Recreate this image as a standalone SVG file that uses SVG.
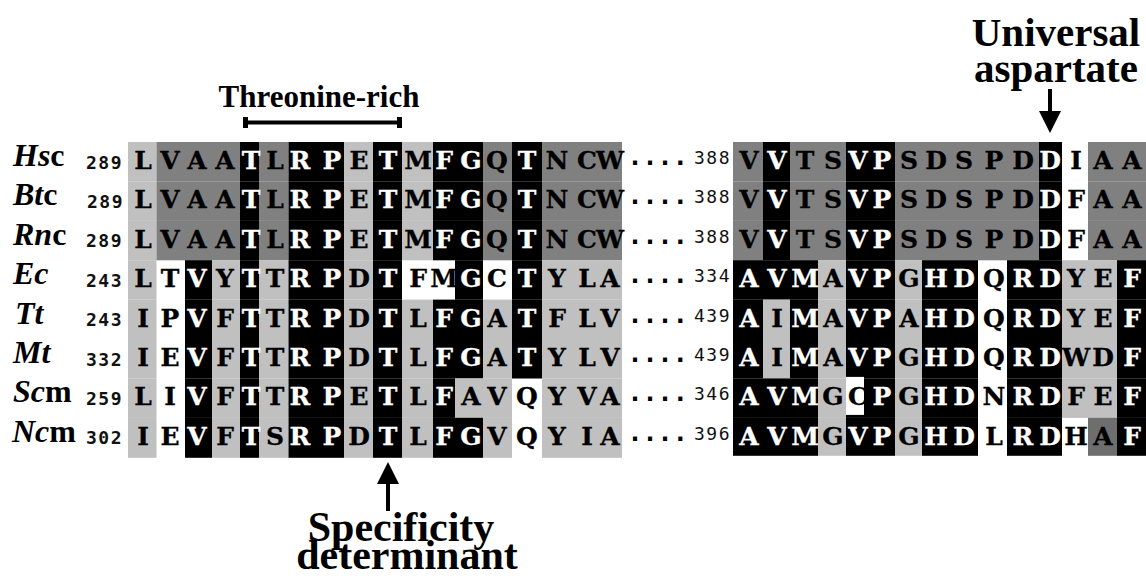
<svg xmlns="http://www.w3.org/2000/svg" width="1146" height="578" viewBox="0 0 1146 578">
<style>
.k{fill:#000}.d{fill:#808080}.l{fill:#c0c0c0}.x{fill:#6e6e6e}.wb{fill:#fff}
.aa{font-family:"DejaVu Serif",serif;font-weight:bold;font-size:25px;fill:#000;stroke:#000;stroke-width:0.3px;text-anchor:middle}
.aa .w{fill:#fff;stroke:#fff}
.sp{font-family:"Liberation Serif","Times New Roman",serif;font-weight:bold;font-size:32px;fill:#000}
.sp .i{font-style:italic}
.n1{font-family:"DejaVu Sans Mono",monospace;font-weight:bold;font-size:18px;text-anchor:end;letter-spacing:1.5px;fill:#111}
.n2{font-family:"DejaVu Sans Mono",monospace;font-size:18px;text-anchor:end;letter-spacing:1.5px;fill:#111}
.dots{font-family:"DejaVu Sans Mono",monospace;font-weight:bold;font-size:25px;fill:#000}
.lbl{font-family:"Liberation Serif","Times New Roman",serif;font-weight:bold;text-anchor:middle;fill:#000}
.ar{stroke:#000;stroke-width:4;fill:none}
</style>
<defs>
<marker id="ah" markerUnits="userSpaceOnUse" markerWidth="22" markerHeight="22" viewBox="0 0 22 22" refX="0" refY="11" orient="auto"><path d="M0,0 L22,11 L0,22 z" fill="#000"/></marker>
</defs>
<rect width="1146" height="578" fill="#fff"/>

<g id="row-Hsc" transform="translate(0,142)">
<rect class="l" x="128" y="0" width="28.5" height="39.5"/><rect class="d" x="156.5" y="0" width="83.5" height="39.5"/><rect class="k" x="240" y="0" width="19" height="39.5"/><rect class="d" x="259" y="0" width="29.5" height="39.5"/><rect class="k" x="288.5" y="0" width="55.5" height="39.5"/><rect class="l" x="344" y="0" width="29" height="39.5"/><rect class="k" x="373" y="0" width="29" height="39.5"/><rect class="l" x="402" y="0" width="31" height="39.5"/><rect class="k" x="433" y="0" width="50" height="39.5"/><rect class="d" x="483" y="0" width="29" height="39.5"/><rect class="k" x="512" y="0" width="30" height="39.5"/><rect class="d" x="542" y="0" width="80" height="39.5"/>
<rect class="d" x="733" y="0" width="30" height="39.5"/><rect class="k" x="763" y="0" width="27" height="39.5"/><rect class="d" x="790" y="0" width="56" height="39.5"/><rect class="k" x="846" y="0" width="49" height="39.5"/><rect class="d" x="895" y="0" width="144" height="39.5"/><rect class="k" x="1039" y="0" width="23" height="39.5"/><rect class="d" x="1088" y="0" width="58" height="39.5"/>
<text class="sp" x="13" y="24"><tspan class="i">Hs</tspan>c</text>
<text class="n1" x="123" y="26.5">289</text>
<text class="dots" x="627.5" y="23">....</text>
<text class="n2" x="731" y="22">388</text>
<text class="aa" x="143 170 197 225 251 275 300 332 359 388 418 444 471 497 527 557 587 610" y="27">LVAA<tspan class="w">T</tspan>L<tspan class="w">RP</tspan>E<tspan class="w">T</tspan>M<tspan class="w">FG</tspan>Q<tspan class="w">T</tspan>NCW</text>
<text class="aa" x="749 777 805 833 858 882 909 936 964 994 1023 1050 1076 1103 1132" y="27">V<tspan class="w">V</tspan>TS<tspan class="w">VP</tspan>SDSPD<tspan class="w">D</tspan>IAA</text>
</g>

<g id="row-Btc" transform="translate(0,181.4)">
<rect class="l" x="128" y="0" width="28.5" height="39.5"/><rect class="d" x="156.5" y="0" width="83.5" height="39.5"/><rect class="k" x="240" y="0" width="19" height="39.5"/><rect class="d" x="259" y="0" width="29.5" height="39.5"/><rect class="k" x="288.5" y="0" width="55.5" height="39.5"/><rect class="l" x="344" y="0" width="29" height="39.5"/><rect class="k" x="373" y="0" width="29" height="39.5"/><rect class="l" x="402" y="0" width="31" height="39.5"/><rect class="k" x="433" y="0" width="50" height="39.5"/><rect class="d" x="483" y="0" width="29" height="39.5"/><rect class="k" x="512" y="0" width="30" height="39.5"/><rect class="d" x="542" y="0" width="80" height="39.5"/>
<rect class="d" x="733" y="0" width="30" height="39.5"/><rect class="k" x="763" y="0" width="27" height="39.5"/><rect class="d" x="790" y="0" width="56" height="39.5"/><rect class="k" x="846" y="0" width="49" height="39.5"/><rect class="d" x="895" y="0" width="144" height="39.5"/><rect class="k" x="1039" y="0" width="23" height="39.5"/><rect class="d" x="1088" y="0" width="58" height="39.5"/>
<text class="sp" x="13" y="24"><tspan class="i">Bt</tspan>c</text>
<text class="n1" x="124" y="26.5">289</text>
<text class="dots" x="627.5" y="23">....</text>
<text class="n2" x="731" y="22">388</text>
<text class="aa" x="143 170 197 225 251 275 300 332 359 388 418 444 471 497 527 557 587 610" y="27">LVAA<tspan class="w">T</tspan>L<tspan class="w">RP</tspan>E<tspan class="w">T</tspan>M<tspan class="w">FG</tspan>Q<tspan class="w">T</tspan>NCW</text>
<text class="aa" x="749 777 805 833 858 882 909 936 964 994 1023 1050 1076 1103 1132" y="27">V<tspan class="w">V</tspan>TS<tspan class="w">VP</tspan>SDSPD<tspan class="w">D</tspan>FAA</text>
</g>

<g id="row-Rnc" transform="translate(0,220.8)">
<rect class="l" x="128" y="0" width="28.5" height="39.5"/><rect class="d" x="156.5" y="0" width="83.5" height="39.5"/><rect class="k" x="240" y="0" width="19" height="39.5"/><rect class="d" x="259" y="0" width="29.5" height="39.5"/><rect class="k" x="288.5" y="0" width="55.5" height="39.5"/><rect class="l" x="344" y="0" width="29" height="39.5"/><rect class="k" x="373" y="0" width="29" height="39.5"/><rect class="l" x="402" y="0" width="31" height="39.5"/><rect class="k" x="433" y="0" width="50" height="39.5"/><rect class="d" x="483" y="0" width="29" height="39.5"/><rect class="k" x="512" y="0" width="30" height="39.5"/><rect class="d" x="542" y="0" width="80" height="39.5"/>
<rect class="d" x="733" y="0" width="30" height="39.5"/><rect class="k" x="763" y="0" width="27" height="39.5"/><rect class="d" x="790" y="0" width="56" height="39.5"/><rect class="k" x="846" y="0" width="49" height="39.5"/><rect class="d" x="895" y="0" width="144" height="39.5"/><rect class="k" x="1039" y="0" width="23" height="39.5"/><rect class="d" x="1088" y="0" width="58" height="39.5"/>
<text class="sp" x="13" y="24"><tspan class="i">Rn</tspan>c</text>
<text class="n1" x="123" y="26.5">289</text>
<text class="dots" x="627.5" y="23">....</text>
<text class="n2" x="731" y="22">388</text>
<text class="aa" x="143 170 197 225 251 275 300 332 359 388 418 444 471 497 527 557 587 610" y="27">LVAA<tspan class="w">T</tspan>L<tspan class="w">RP</tspan>E<tspan class="w">T</tspan>M<tspan class="w">FG</tspan>Q<tspan class="w">T</tspan>NCW</text>
<text class="aa" x="749 777 805 833 858 882 909 936 964 994 1023 1050 1076 1103 1132" y="27">V<tspan class="w">V</tspan>TS<tspan class="w">VP</tspan>SDSPD<tspan class="w">D</tspan>FAA</text>
</g>

<g id="row-Ec" transform="translate(0,260.2)">
<rect class="l" x="128" y="0" width="28.5" height="39.5"/><rect class="k" x="185" y="0" width="27" height="39.5"/><rect class="l" x="212" y="0" width="28" height="39.5"/><rect class="k" x="240" y="0" width="19" height="39.5"/><rect class="l" x="259" y="0" width="29.5" height="39.5"/><rect class="k" x="288.5" y="0" width="55.5" height="39.5"/><rect class="l" x="344" y="0" width="29" height="39.5"/><rect class="k" x="373" y="0" width="29" height="39.5"/><rect class="k" x="455" y="0" width="28" height="39.5"/><rect class="k" x="512" y="0" width="30" height="39.5"/><rect class="l" x="542" y="0" width="80" height="39.5"/>
<rect class="k" x="733" y="0" width="85" height="39.5"/><rect class="l" x="818" y="0" width="28" height="39.5"/><rect class="k" x="846" y="0" width="49" height="39.5"/><rect class="l" x="895" y="0" width="27" height="39.5"/><rect class="k" x="922" y="0" width="56" height="39.5"/><rect class="k" x="1007" y="0" width="55" height="39.5"/><rect class="l" x="1062" y="0" width="55" height="39.5"/><rect class="k" x="1117" y="0" width="29" height="39.5"/>
<text class="sp" x="13" y="24"><tspan class="i">Ec</tspan></text>
<text class="n1" x="123" y="26.5">243</text>
<text class="dots" x="627.5" y="23">....</text>
<text class="n2" x="731" y="22">334</text>
<text class="aa" x="143 170 197 225 251 275 300 332 359 388 418 444 471 497 527 557 587 610" y="27">LT<tspan class="w">V</tspan>Y<tspan class="w">T</tspan>T<tspan class="w">RP</tspan>D<tspan class="w">T</tspan>FM<tspan class="w">G</tspan>C<tspan class="w">T</tspan>YLA</text>
<text class="aa" x="749 777 805 833 858 882 909 936 964 994 1023 1050 1076 1103 1132" y="27"><tspan class="w">AVM</tspan>A<tspan class="w">VP</tspan>G<tspan class="w">HD</tspan>Q<tspan class="w">RD</tspan>YE<tspan class="w">F</tspan></text>
</g>

<g id="row-Tt" transform="translate(0,299.6)">
<rect class="l" x="128" y="0" width="28.5" height="39.5"/><rect class="k" x="185" y="0" width="27" height="39.5"/><rect class="l" x="212" y="0" width="28" height="39.5"/><rect class="k" x="240" y="0" width="19" height="39.5"/><rect class="l" x="259" y="0" width="29.5" height="39.5"/><rect class="k" x="288.5" y="0" width="55.5" height="39.5"/><rect class="l" x="344" y="0" width="29" height="39.5"/><rect class="k" x="373" y="0" width="29" height="39.5"/><rect class="l" x="402" y="0" width="31" height="39.5"/><rect class="k" x="433" y="0" width="50" height="39.5"/><rect class="l" x="483" y="0" width="29" height="39.5"/><rect class="k" x="512" y="0" width="30" height="39.5"/><rect class="l" x="542" y="0" width="80" height="39.5"/>
<rect class="k" x="733" y="0" width="30" height="39.5"/><rect class="l" x="763" y="0" width="27" height="39.5"/><rect class="k" x="790" y="0" width="28" height="39.5"/><rect class="l" x="818" y="0" width="28" height="39.5"/><rect class="k" x="846" y="0" width="49" height="39.5"/><rect class="l" x="895" y="0" width="27" height="39.5"/><rect class="k" x="922" y="0" width="56" height="39.5"/><rect class="k" x="1007" y="0" width="55" height="39.5"/><rect class="l" x="1062" y="0" width="55" height="39.5"/><rect class="k" x="1117" y="0" width="29" height="39.5"/>
<text class="sp" x="15" y="24"><tspan class="i">Tt</tspan></text>
<text class="n1" x="123" y="26.5">243</text>
<text class="dots" x="627.5" y="23">....</text>
<text class="n2" x="731" y="22">439</text>
<text class="aa" x="143 170 197 225 251 275 300 332 359 388 418 444 471 497 527 557 587 610" y="27">IP<tspan class="w">V</tspan>F<tspan class="w">T</tspan>T<tspan class="w">RP</tspan>D<tspan class="w">T</tspan>L<tspan class="w">FG</tspan>A<tspan class="w">T</tspan>FLV</text>
<text class="aa" x="749 777 805 833 858 882 909 936 964 994 1023 1050 1076 1103 1132" y="27"><tspan class="w">A</tspan>I<tspan class="w">M</tspan>A<tspan class="w">VP</tspan>A<tspan class="w">HD</tspan>Q<tspan class="w">RD</tspan>YE<tspan class="w">F</tspan></text>
</g>

<g id="row-Mt" transform="translate(0,339)">
<rect class="l" x="128" y="0" width="28.5" height="39.5"/><rect class="k" x="185" y="0" width="27" height="39.5"/><rect class="l" x="212" y="0" width="28" height="39.5"/><rect class="k" x="240" y="0" width="19" height="39.5"/><rect class="l" x="259" y="0" width="29.5" height="39.5"/><rect class="k" x="288.5" y="0" width="55.5" height="39.5"/><rect class="l" x="344" y="0" width="29" height="39.5"/><rect class="k" x="373" y="0" width="29" height="39.5"/><rect class="l" x="402" y="0" width="31" height="39.5"/><rect class="k" x="433" y="0" width="50" height="39.5"/><rect class="l" x="483" y="0" width="29" height="39.5"/><rect class="k" x="512" y="0" width="30" height="39.5"/><rect class="l" x="542" y="0" width="80" height="39.5"/>
<rect class="k" x="733" y="0" width="30" height="39.5"/><rect class="l" x="763" y="0" width="27" height="39.5"/><rect class="k" x="790" y="0" width="28" height="39.5"/><rect class="l" x="818" y="0" width="28" height="39.5"/><rect class="k" x="846" y="0" width="49" height="39.5"/><rect class="l" x="895" y="0" width="27" height="39.5"/><rect class="k" x="922" y="0" width="56" height="39.5"/><rect class="k" x="1007" y="0" width="55" height="39.5"/><rect class="l" x="1062" y="0" width="55" height="39.5"/><rect class="k" x="1117" y="0" width="29" height="39.5"/>
<text class="sp" x="13" y="24"><tspan class="i">Mt</tspan></text>
<text class="n1" x="123" y="26.5">332</text>
<text class="dots" x="627.5" y="23">....</text>
<text class="n2" x="731" y="22">439</text>
<text class="aa" x="143 170 197 225 251 275 300 332 359 388 418 444 471 497 527 557 587 610" y="27">IE<tspan class="w">V</tspan>F<tspan class="w">T</tspan>T<tspan class="w">RP</tspan>D<tspan class="w">T</tspan>L<tspan class="w">FG</tspan>A<tspan class="w">T</tspan>YLV</text>
<text class="aa" x="749 777 805 833 858 882 909 936 964 994 1023 1050 1076 1103 1132" y="27"><tspan class="w">A</tspan>I<tspan class="w">M</tspan>A<tspan class="w">VP</tspan>G<tspan class="w">HD</tspan>Q<tspan class="w">RD</tspan>WD<tspan class="w">F</tspan></text>
</g>

<g id="row-Scm" transform="translate(0,378.4)">
<rect class="l" x="128" y="0" width="28.5" height="39.5"/><rect class="k" x="185" y="0" width="27" height="39.5"/><rect class="l" x="212" y="0" width="28" height="39.5"/><rect class="k" x="240" y="0" width="19" height="39.5"/><rect class="l" x="259" y="0" width="29.5" height="39.5"/><rect class="k" x="288.5" y="0" width="55.5" height="39.5"/><rect class="l" x="344" y="0" width="29" height="39.5"/><rect class="k" x="373" y="0" width="29" height="39.5"/><rect class="l" x="402" y="0" width="31" height="39.5"/><rect class="k" x="433" y="0" width="22" height="39.5"/><rect class="l" x="455" y="0" width="57" height="39.5"/><rect class="l" x="542" y="0" width="80" height="39.5"/>
<rect class="k" x="733" y="0" width="85" height="39.5"/><rect class="l" x="818" y="0" width="28" height="39.5"/><rect class="k" x="846" y="0" width="49" height="39.5"/><rect class="wb" x="846" y="-1.5" width="18" height="38"/><rect class="l" x="895" y="0" width="27" height="39.5"/><rect class="k" x="922" y="0" width="56" height="39.5"/><rect class="k" x="1007" y="0" width="55" height="39.5"/><rect class="l" x="1062" y="0" width="55" height="39.5"/><rect class="k" x="1117" y="0" width="29" height="39.5"/>
<text class="sp" x="13" y="24"><tspan class="i">Sc</tspan>m</text>
<text class="n1" x="123" y="26.5">259</text>
<text class="dots" x="627.5" y="23">....</text>
<text class="n2" x="731" y="22">346</text>
<text class="aa" x="143 170 197 225 251 275 300 332 359 388 418 444 471 497 527 557 587 610" y="27">LI<tspan class="w">V</tspan>F<tspan class="w">T</tspan>T<tspan class="w">RP</tspan>E<tspan class="w">T</tspan>L<tspan class="w">F</tspan>AVQYVA</text>
<text class="aa" x="749 777 805 833 858 882 909 936 964 994 1023 1050 1076 1103 1132" y="27"><tspan class="w">AVM</tspan>GC<tspan class="w">P</tspan>G<tspan class="w">HD</tspan>N<tspan class="w">RD</tspan>FE<tspan class="w">F</tspan></text>
</g>

<g id="row-Ncm" transform="translate(0,417.8)">
<rect class="l" x="128" y="0" width="28.5" height="40"/><rect class="k" x="185" y="0" width="27" height="40"/><rect class="l" x="212" y="0" width="28" height="40"/><rect class="k" x="240" y="0" width="19" height="40"/><rect class="l" x="259" y="0" width="29.5" height="40"/><rect class="k" x="288.5" y="0" width="55.5" height="40"/><rect class="l" x="344" y="0" width="29" height="40"/><rect class="k" x="373" y="0" width="29" height="40"/><rect class="l" x="402" y="0" width="31" height="40"/><rect class="k" x="433" y="0" width="50" height="40"/><rect class="l" x="483" y="0" width="29" height="40"/><rect class="l" x="542" y="0" width="80" height="40"/>
<rect class="k" x="733" y="0" width="85" height="38"/><rect class="l" x="818" y="0" width="28" height="38"/><rect class="k" x="846" y="0" width="49" height="38"/><rect class="l" x="895" y="0" width="27" height="38"/><rect class="k" x="922" y="0" width="56" height="38"/><rect class="k" x="1007" y="0" width="55" height="38"/><rect class="x" x="1088" y="0" width="29" height="38"/><rect class="k" x="1117" y="0" width="29" height="38"/>
<text class="sp" x="12" y="24"><tspan class="i">Nc</tspan>m</text>
<text class="n1" x="123" y="26.5">302</text>
<text class="dots" x="627.5" y="23">....</text>
<text class="n2" x="731" y="22">396</text>
<text class="aa" x="143 170 197 225 251 275 300 332 359 388 418 444 471 497 527 557 587 610" y="27">IE<tspan class="w">V</tspan>F<tspan class="w">T</tspan>S<tspan class="w">RP</tspan>D<tspan class="w">T</tspan>L<tspan class="w">FG</tspan>VQYIA</text>
<text class="aa" x="749 777 805 833 858 882 909 936 964 994 1023 1050 1076 1103 1132" y="27"><tspan class="w">AVM</tspan>G<tspan class="w">VP</tspan>G<tspan class="w">HD</tspan>L<tspan class="w">RD</tspan>HA<tspan class="w">F</tspan></text>
</g>

<g id="label-threonine">
<text class="lbl" x="319" y="107" font-size="31">Threonine-rich</text>
</g>
<g id="label-universal">
<text class="lbl" x="1056" y="46" font-size="41">Universal</text>
<text class="lbl" x="1056" y="82" font-size="41">aspartate</text>
</g>
<g id="label-specificity">
<text class="lbl" x="401" y="541" font-size="42">Specificity</text>
<text class="lbl" x="407" y="569" font-size="42">determinant</text>
</g>

<g id="connectors">
<path class="ar" d="M245.5,122.5 H399.5"/>
<rect x="243" y="117" width="5" height="11" fill="#000"/>
<rect x="397" y="117" width="5" height="11" fill="#000"/>
<line class="ar" x1="388" y1="511" x2="388" y2="484" marker-end="url(#ah)"/>
<line class="ar" x1="1050" y1="89" x2="1050" y2="111" marker-end="url(#ah)"/>
</g>
</svg>
